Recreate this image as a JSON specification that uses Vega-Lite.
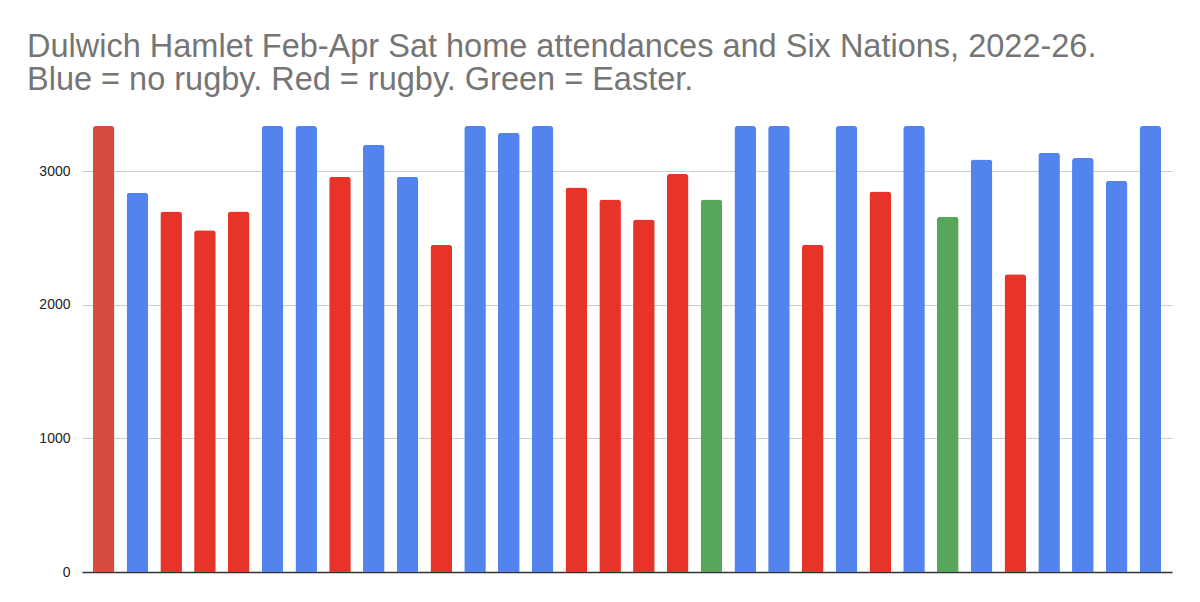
{
"$schema":"https://vega.github.io/schema/vega-lite/v6.json",
"autosize":{"type":"none"},
"width":1090,"height":446,
"padding":{"left":82,"top":126,"right":28,"bottom":30},
"background":"white",
"title":{"text":["Dulwich Hamlet Feb-Apr Sat home attendances and Six Nations, 2022-26.","Blue = no rugby. Red = rugby. Green = Easter."],"anchor":"start","frame":"group","dx":-55,"offset":30,"font":"Liberation Sans","fontSize":32.5,"fontWeight":"normal","color":"#757575","lineHeight":33},
"data":{"values":[
{"i":1,"v":3340,"c":"first"},{"i":2,"v":2840,"c":"blue"},{"i":3,"v":2700,"c":"red"},{"i":4,"v":2560,"c":"red"},
{"i":5,"v":2700,"c":"red"},{"i":6,"v":3340,"c":"blue"},{"i":7,"v":3340,"c":"blue"},{"i":8,"v":2960,"c":"red"},
{"i":9,"v":3200,"c":"blue"},{"i":10,"v":2960,"c":"blue"},{"i":11,"v":2450,"c":"red"},{"i":12,"v":3340,"c":"blue"},
{"i":13,"v":3290,"c":"blue"},{"i":14,"v":3340,"c":"blue"},{"i":15,"v":2880,"c":"red"},{"i":16,"v":2790,"c":"red"},
{"i":17,"v":2640,"c":"red"},{"i":18,"v":2980,"c":"red"},{"i":19,"v":2790,"c":"green"},{"i":20,"v":3340,"c":"blue"},
{"i":21,"v":3340,"c":"blue"},{"i":22,"v":2450,"c":"red"},{"i":23,"v":3340,"c":"blue"},{"i":24,"v":2850,"c":"red"},
{"i":25,"v":3340,"c":"blue"},{"i":26,"v":2660,"c":"green"},{"i":27,"v":3090,"c":"blue"},{"i":28,"v":2230,"c":"red"},
{"i":29,"v":3140,"c":"blue"},{"i":30,"v":3100,"c":"blue"},{"i":31,"v":2930,"c":"blue"},{"i":32,"v":3340,"c":"blue"}
]},
"mark":{"type":"bar","cornerRadiusTopLeft":3,"cornerRadiusTopRight":3},
"encoding":{
"x":{"field":"i","type":"ordinal","scale":{"paddingInner":0.36,"paddingOuter":0.32},"axis":{"labels":false,"ticks":false,"title":null,"domainColor":"#333","domainWidth":1.5}},
"y":{"field":"v","type":"quantitative","scale":{"domain":[0,3340],"nice":false},"axis":{"values":[0,1000,2000,3000],"format":"d","title":null,"domain":false,"ticks":false,"labelPadding":12,"labelFont":"Liberation Sans","labelFontSize":14,"labelColor":"#222","gridColor":"#cccccc"}},
"color":{"field":"c","type":"nominal","legend":null,"scale":{"domain":["first","blue","red","green"],"range":["#d64c3e","#5383ec","#e8332a","#58a55c"]}}
},
"config":{"view":{"stroke":null}}
}
